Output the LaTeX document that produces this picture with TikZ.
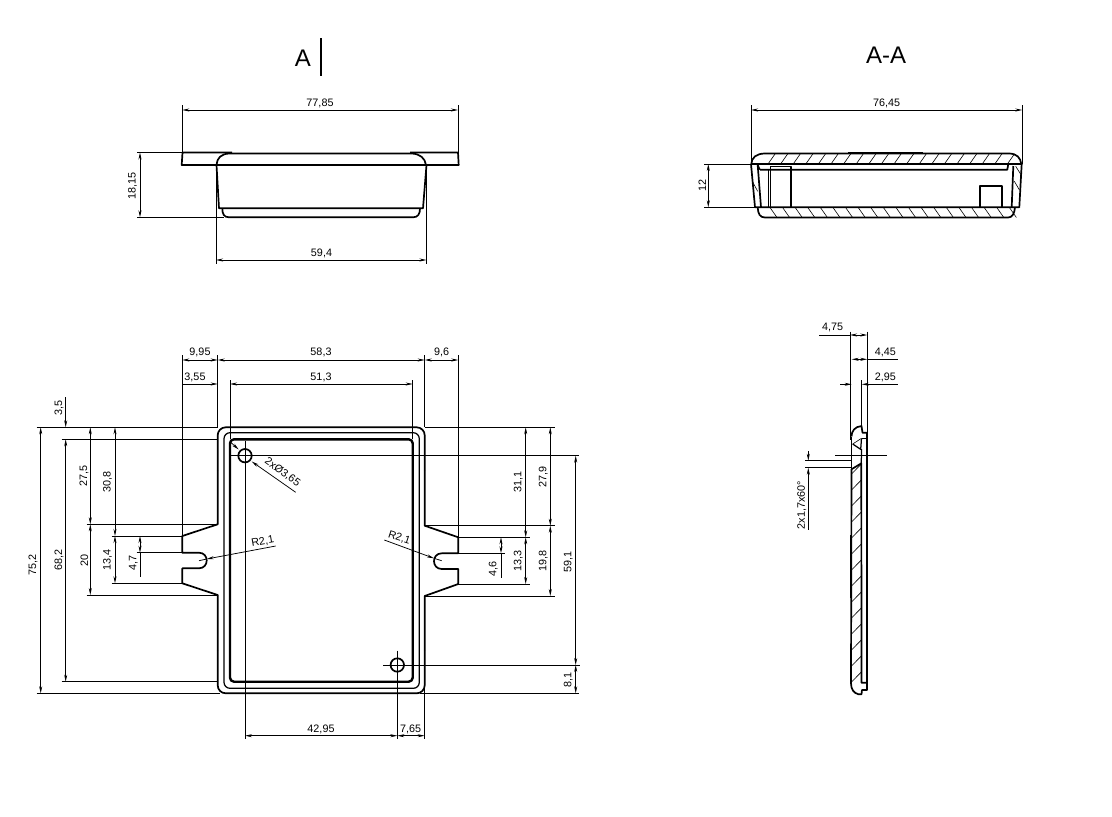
\documentclass[tikz,border=0pt]{standalone}
\usepackage{fontspec}
\setmainfont{Liberation Sans}
\usetikzlibrary{arrows.meta}

\begin{document}
\begin{tikzpicture}[x=1pt, y=-1pt,
  thinl/.style = {draw, line width=0.75},
  outl/.style = {draw, line width=1.7, line join=round},
  midl/.style = {draw, line width=1.25, line join=round},
  heavy/.style = {draw, line width=2.4, line join=round},
  hatchl/.style = {draw, line width=0.6},
  dimb/.style = {thinl, {Stealth[length=7pt,width=3pt]}-{Stealth[length=7pt,width=3pt]}},
  dime/.style = {thinl, -{Stealth[length=7pt,width=3pt]}},
  dims/.style = {thinl, {Stealth[length=7pt,width=3pt]}-},
  val/.style = {inner sep=0pt, font=\fontsize{10.8}{12}\selectfont},
  valv/.style = {val, rotate=90},
  title/.style = {inner sep=0pt, font=\fontsize{24}{28}\selectfont},
  hole/.style = {circle, draw, line width=1.7, inner sep=0pt, minimum size=13.4pt}]
  \useasboundingbox (0,0) rectangle (1112,817);

  % titles
  \node[title] (ta) at (303,58) {A};
  \draw[thinl, line width=1.2] (321,38) -- (321,76);
  \node[title] (taa) at (886,55) {A-A};

  % view A
  \draw[outl] (232,152.5) -- (182.5,152.5) -- (181.7,165) -- (216.5,165);
  \draw[outl] (410,152.5) -- (458,152.5) -- (458.7,165) -- (426.5,165);
  \draw[outl] (216.5,165) .. controls (217,158) and (221,154) .. (229,153.5) -- (412,153.5) .. controls (420,154) and (425,158) .. (426,165);
  \draw[midl] (216.5,165) -- (426.5,165);
  \draw[outl] (216.5,165) -- (219,208.3) -- (423,208.3) -- (426.5,165);
  \draw[outl] (222.3,208.3) .. controls (222.3,214) and (224,217.3) .. (229,217.3) -- (413,217.3) .. controls (418,217.3) and (420,214) .. (420,208.3);
  \draw[thinl] (182.3,105) -- (182.3,152.5);
  \draw[thinl] (458,105) -- (458,152.5);
  \draw[dimb] (182.3,110) -- (458,110);
  \node[val] (v7785) at (320,103) {77,85};
  \draw[thinl] (137,152.5) -- (182,152.5);
  \draw[thinl] (137,217.3) -- (224,217.3);
  \draw[dimb] (140,152.5) -- (140,217.3);
  \node[valv] (v1815) at (132.5,186) {18,15};
  \draw[thinl] (216,165) -- (216,264);
  \draw[thinl] (426.5,165) -- (426.5,264);
  \draw[dimb] (216,260) -- (426.5,260);
  \node[val] (v594) at (321.5,253) {59,4};

  % view A-A
  \draw[outl] (751.3,164) .. controls (751.5,158) and (756,153.5) .. (765,153.5) -- (1009,153.5) .. controls (1017,153.5) and (1020.5,158) .. (1021.3,164);
  \draw[heavy, line width=1.8] (848,152.6) -- (923.3,152.6);
  \draw[midl] (751,164) -- (1021.7,164);
  \draw[outl] (760,169.7) -- (1007.3,169.7) -- (1008.3,164);
  \draw[midl] (757.7,164.5) -- (760,169.7);
  \draw[outl] (751,164) -- (755,207.3) -- (1019.3,207.3) -- (1021.7,164);
  \draw[outl] (757.7,165) -- (761,207.3);
  \draw[outl] (1013.3,166) -- (1011.7,207.3);
  \draw[midl] (768.5,169.7) -- (768.5,207.3);
  \draw[outl] (770.5,207.3) -- (770.5,166.5) -- (791,166.5) -- (791,207.3);
  \draw[outl] (980,207.3) -- (980,185.7) -- (1002.3,185.7) -- (1002.3,207.3);
  \draw[outl] (757.7,207.3) .. controls (758,214) and (760,217.5) .. (765,217.5) -- (1008,217.5) .. controls (1012,217.5) and (1014.5,214) .. (1015,207.3);
  \foreach \x in {0,...,19} {
    \draw[hatchl] ({768+\x*12.6},164) -- ({775+\x*12.6},154);
  }
  \foreach \x in {0,...,19} {
    \draw[hatchl] ({770+\x*12.6},207.5) -- ({777+\x*12.6},217.5);
  }
  \draw[hatchl] (752.3,181.3) -- (757.7,191.3);
  \draw[hatchl] (1014.3,181.3) -- (1019.3,189.7);
  \draw[hatchl] (1015.7,166.3) -- (1021,174.7);
  \draw[thinl] (751,105) -- (751,164);
  \draw[thinl] (1022.3,105) -- (1022.3,164);
  \draw[dimb] (751,110) -- (1022.3,110);
  \node[val] (v7645) at (886.7,103) {76,45};
  \draw[thinl] (704,164) -- (751,164);
  \draw[thinl] (704,207.3) -- (755,207.3);
  \draw[dimb] (708.3,164) -- (708.3,207.3);
  \node[valv] (v12) at (702.3,185) {12};

  % plan, contours
  \draw[outl, rounded corners=8pt] (217.7,470) -- (217.7,427.3) -- (424.7,427.3) -- (424.7,470);
  \draw[outl] (217.7,470) -- (217.7,524.3) -- (182.3,536) -- (182.3,552.7) -- (198.9,552.7)
    .. controls (209.3,552.7) and (209.3,568.3) .. (198.9,568.3)
    -- (182.3,568.3) -- (182.3,583.3) -- (217.7,595) -- (217.7,650);
  \draw[outl] (424.7,470) -- (424.7,525.7) -- (458.3,537.3) -- (458.3,553.3) -- (441.8,553.3)
    .. controls (431.4,553.3) and (431.4,569) .. (441.8,569)
    -- (458.3,569) -- (458.3,584) -- (424.7,596) -- (424.7,650);
  \draw[outl, rounded corners=8pt] (217.7,650) -- (217.7,693.3) -- (424.7,693.3) -- (424.7,650);
  \draw[midl, rounded corners=6pt] (224,432.7) rectangle (419.3,688.3);
  \draw[heavy, rounded corners=4pt] (230,439.3) rectangle (412.7,681.7);
  \node[hole] (h1) at (245,455.7) {};
  \node[hole] (h2) at (397.3,665) {};

  % plan, extension lines
  \draw[thinl] (36.7,427.3) -- (217.7,427.3);
  \draw[thinl] (424.7,427.3) -- (554.7,427.3);
  \draw[thinl] (61.7,439.3) -- (218,439.3);
  \draw[thinl] (36.7,693.3) -- (220,693.3);
  \draw[thinl] (420,693.3) -- (579,693.3);
  \draw[thinl] (61.7,681.7) -- (218,681.7);
  \draw[thinl] (86.7,524.3) -- (217.7,524.3);
  \draw[thinl] (86.7,595) -- (217.7,595);
  \draw[thinl] (111.7,536) -- (182.3,536);
  \draw[thinl] (111.7,583.3) -- (182.3,583.3);
  \draw[thinl] (136.7,552.7) -- (182.3,552.7);
  \draw[thinl] (424.7,525.7) -- (554.7,525.7);
  \draw[thinl] (424.7,596) -- (554.7,596);
  \draw[thinl] (458.3,537.3) -- (530,537.3);
  \draw[thinl] (458.3,584) -- (530,584);
  \draw[thinl] (458.3,553.3) -- (505,553.3);
  \draw[thinl] (182.3,355) -- (182.3,536);
  \draw[thinl] (217.7,355) -- (217.7,427.3);
  \draw[thinl] (230,380) -- (230,439.3);
  \draw[thinl] (412.7,380) -- (412.7,439.3);
  \draw[thinl] (424.7,355) -- (424.7,427.3);
  \draw[thinl] (458.3,355) -- (458.3,537.3);
  \draw[thinl] (424.7,685) -- (424.7,739);
  \draw[thinl] (245,441) -- (245,739);
  \draw[thinl] (397.3,650.7) -- (397.3,739);
  \draw[thinl] (230,455.7) -- (579,455.7);
  \draw[thinl] (383,665) -- (579.7,665);

  % plan, dimensions on the left
  \draw[dimb] (40.7,427.3) -- (40.7,693.3);
  \node[valv] (v752) at (33,565) {75,2};
  \draw[dimb] (65.7,439.3) -- (65.7,681.7);
  \node[valv] (v682) at (59,560) {68,2};
  \draw[dime] (65.7,397.3) -- (65.7,427.3);
  \node[valv] (v35) at (59,408) {3,5};
  \draw[dimb] (90.3,427.3) -- (90.3,524.3);
  \node[valv] (v275) at (84,476) {27,5};
  \draw[dimb] (90.3,524.3) -- (90.3,595);
  \node[valv] (v20) at (84.3,560) {20};
  \draw[dimb] (115,427.3) -- (115,536);
  \node[valv] (v308) at (107.5,481.7) {30,8};
  \draw[dimb] (115,536) -- (115,583.3);
  \node[valv] (v134) at (107.5,560) {13,4};
  \draw[dimb] (140,536) -- (140,552.7);
  \draw[thinl] (140,552.7) -- (140,576.7);
  \node[valv] (v47) at (133.3,563) {4,7};

  % plan, dimensions on top
  \draw[dimb] (182.3,360) -- (217.7,360);
  \node[val] (v995) at (200,352.5) {9,95};
  \draw[dimb] (217.7,360) -- (424.7,360);
  \node[val] (v583) at (321,352.5) {58,3};
  \draw[dimb] (424.7,360) -- (458.3,360);
  \node[val] (v96) at (441.7,352.5) {9,6};
  \draw[dime] (182.3,384) -- (217.7,384);
  \node[val] (v355) at (195,377) {3,55};
  \draw[dimb] (230,384) -- (412.7,384);
  \node[val] (v513) at (321,377) {51,3};

  % plan, dimensions on the right
  \draw[dimb] (525.7,427.3) -- (525.7,537.3);
  \node[valv] (v311) at (518.3,481.7) {31,1};
  \draw[dimb] (525.7,537.3) -- (525.7,584);
  \node[valv] (v133) at (518.3,561) {13,3};
  \draw[dimb] (550.3,427.3) -- (550.3,525.7);
  \node[valv] (v279) at (543.3,476.7) {27,9};
  \draw[dimb] (550.3,525.7) -- (550.3,596);
  \node[valv] (v198) at (543.3,561) {19,8};
  \draw[dimb] (575.7,455.7) -- (575.7,665);
  \node[valv] (v591) at (568.3,561.7) {59,1};
  \draw[dimb] (575.7,665) -- (575.7,693.3);
  \node[valv] (v81) at (568.3,680) {8,1};
  \draw[dimb] (501,537.3) -- (501,553.3);
  \draw[thinl] (501,553.3) -- (501,578.3);
  \node[valv] (v46) at (493.3,569) {4,6};

  % plan, dimensions below
  \draw[dimb] (245,735.7) -- (397.3,735.7);
  \node[val] (v4295) at (321,729) {42,95};
  \draw[dimb] (397.3,735.7) -- (424.7,735.7);
  \node[val] (v765) at (410.7,729) {7,65};

  % plan, leaders
  \draw[dims] (206.7,559) -- (275.7,546);
  \draw[thinl] (199,560.7) -- (206.7,559);
  \node[val, rotate=10] (r1) at (262.7,541.7) {R2,1};
  \draw[dims] (434,558.3) -- (384.3,540);
  \draw[thinl] (434,558.3) -- (441.7,560.7);
  \node[val, rotate=-18] (r2) at (399.3,538) {R2,1};
  \draw[dims] (251.7,461.5) -- (295.7,492.3);
  \draw[dims] (238.7,449.5) -- (230,441.7);
  \node[val, rotate=-36] (d1) at (282.5,472) {2xØ3,65};

  % side view
  \draw[outl] (851.5,436.5) .. controls (851.5,431) and (855,426.5) .. (861.5,426) -- (862.5,432.7) -- (867,432.7) -- (867,690) -- (862,690) -- (861.5,694.3) -- (858.5,694.3) .. controls (853.5,693) and (851,689) .. (851,683.3) -- (851.5,469.3) -- (861.3,463.3) -- (861.5,682.7) -- (866,682.7);
  \draw[outl] (851.5,436.5) -- (851.5,469.3);
  \draw[midl] (861.5,438.3) -- (866.7,438.3);
  \draw[midl] (861.5,438.3) -- (860.7,449.3) -- (852.7,444);
  \draw[midl] (861.5,449) -- (861.3,463.3);
  \draw[hatchl] (861.5,438.3) -- (852.7,444);
  \draw[heavy] (850.8,535) -- (850.8,598);
  \foreach \y in {0,...,13} {
    \draw[hatchl] (851.5,{474+\y*16}) -- (861.3,{464+\y*16});
  }
  \draw[thinl] (850,331.5) -- (850,440);
  \draw[thinl] (867.3,331.5) -- (867.3,432.7);
  \draw[thinl] (861.7,380) -- (861.7,426);
  \draw[thinl] (835,455) -- (887.3,455);
  \draw[thinl] (805,460.7) -- (851.5,460.7);
  \draw[thinl] (805,467.7) -- (851.5,467.7);
  \draw[thinl] (819,335) -- (850,335);
  \draw[dimb] (850,335) -- (867.3,335);
  \node[val] (v475) at (832.7,327.3) {4,75};
  \draw[thinl] (867.3,359.3) -- (898,359.3);
  \draw[dimb] (851.7,359.3) -- (867.3,359.3);
  \node[val] (v445) at (885.3,352.3) {4,45};
  \draw[dime] (840,384.3) -- (851.7,384.3);
  \draw[dims] (861.7,384.3) -- (898,384.3);
  \node[val] (v295) at (885.3,377.3) {2,95};
  \draw[dime] (808.3,451) -- (808.3,460.7);
  \draw[dims] (808.3,467.7) -- (808.3,530);
  \node[valv] (v17) at (801.7,505) {2x1,7x60°};
\end{tikzpicture}
\end{document}
